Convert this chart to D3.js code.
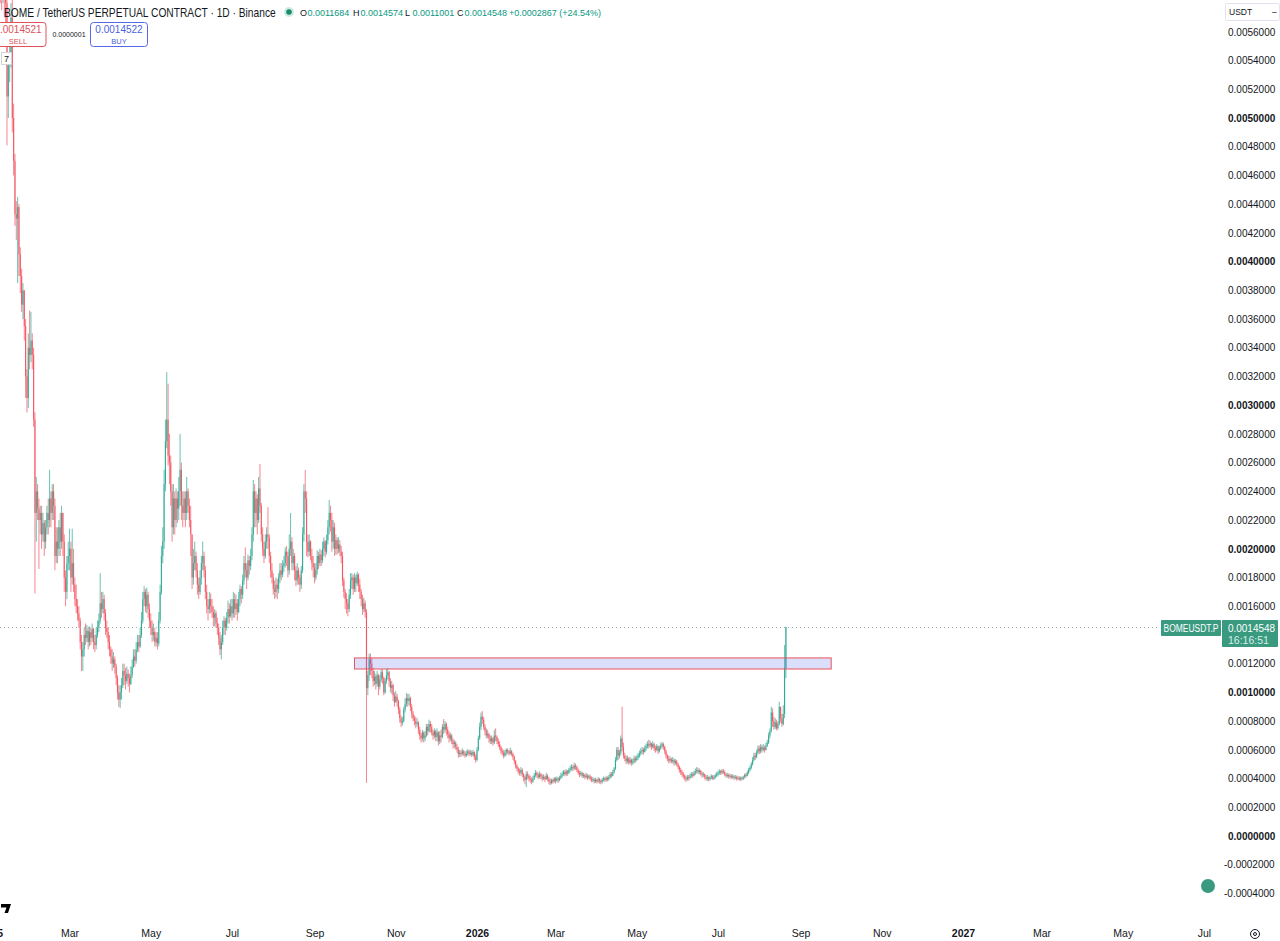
<!DOCTYPE html>
<html>
<head>
<meta charset="utf-8">
<script src="https://cdn.jsdelivr.net/npm/d3@7"></script>
<style>
  html, body { margin: 0; padding: 0; background: #fff; overflow: hidden; }
  svg text { font-family: "Liberation Sans", Arial, sans-serif; }
</style>
</head>
<body>
<div id="chart"></div>
<script>
// ---- data (prices in micro-USDT, 1e-6) ----
var unit = 1e-6;
var firstOpen = 6200;

// first day of each block of daily candles
var monthStarts = ["2025-01-08","2025-02-01","2025-03-01","2025-04-01","2025-05-01","2025-06-01",
  "2025-07-01","2025-08-01","2025-09-01","2025-10-01","2025-11-01","2025-12-01",
  "2026-01-01","2026-02-01","2026-03-01","2026-04-01","2026-05-01","2026-06-01","2026-07-01","2026-08-01"];

var closes = [
  [6000,5900,6050,5850,5800,5150,5380,5420,5700,5000,4700,4330,4300,4380,4050,3900,3700,3800,3550,3200,3050,3400,3350,3450],
  [3350,2900,2250,2400,2280,2200,2250,2100,2180,2050,2150,2250,2200,2350,2250,2400,2300,1950,2050,2000,2150,2050,2250,2050,1800,1700,1900,1950],
  [2000,1800,1900,1750,1650,1600,1550,1500,1350,1250,1300,1400,1380,1430,1350,1420,1380,1440,1350,1330,1400,1450,1500,1620,1580,1650,1550,1450,1420,1350,1300],
  [1250,1200,1230,1180,1100,1000,950,1000,1050,1150,1120,1080,1130,1100,1060,1120,1180,1250,1220,1300,1350,1320,1400,1500,1650,1700,1600,1680,1580,1500],
  [1450,1400,1420,1350,1380,1340,1500,1700,1950,2050,2450,2750,2900,2650,2600,2400,2150,2350,2200,2350,2280,2400,2550,2300,2250,2350,2250,2400,2300,2200,2100],
  [1800,1900,1950,1850,1750,1700,1800,1900,1950,1850,1700,1600,1580,1650,1600,1560,1520,1550,1480,1450,1380,1300,1350,1450,1500,1450,1520,1580,1530,1600],
  [1550,1650,1580,1620,1560,1650,1720,1680,1780,1900,1850,1800,1920,1880,1950,2100,2400,2250,2350,2200,2420,2300,2100,2000,1950,2050,2100,2080,1950,1850,1800],
  [1720,1700,1750,1720,1800,1850,1820,1880,1900,1980,1950,1850,2000,2050,1900,1950,1850,1780,1850,1800,1750,1850,2100,2400,2350,2050,1980,2050,1950,1900,1870],
  [1800,1850,1950,1900,1960,1920,2000,2050,1980,2060,2150,2250,2200,2050,2150,2000,2060,2000,2030,1980,1950,1780,1700,1650,1620,1580,1680,1780,1800,1720],
  [1800,1760,1820,1750,1700,1650,1580,1620,1560,1030,1120,1230,1200,1150,1080,1110,1060,1120,1040,1090,1140,1100,1000,1080,1120,1140,1080,1030,1050,980,930],
  [970,940,880,820,790,800,880,920,960,940,960,900,850,820,800,780,790,740,700,680,720,680,700,760,730,780,760,720,700,730],
  [690,720,660,700,690,760,740,780,740,710,680,700,660,640,650,620,600,570,580,570,590,575,560,575,590,570,580,565,585,550,530],
  [600,680,760,830,810,760,730,700,710,680,660,680,650,700,690,660,640,620,590,580,560,580,600,590,575,590,570,550,520,490,470],
  [450,440,460,430,410,390,430,420,400,390,380,400,420,440,425,410,430,415,400,410,395,420,400,380,370,390,380,400],
  [385,400,390,405,420,430,445,430,450,440,460,470,480,470,490,480,460,440,430,440,420,425,410,420,405,415,400,390,395,380,390],
  [380,395,385,375,390,400,390,405,395,410,430,420,445,470,530,600,560,580,680,620,560,540,520,540,510,530,510,520,540,530],
  [545,560,575,590,600,585,610,625,640,630,645,620,640,610,600,625,590,610,630,640,620,590,560,540,525,535,520,530,510,520,500],
  [480,460,445,430,420,400,395,410,405,420,430,420,440,450,460,445,455,435,425,430,410,400,410,395,405,415,400,410,420,430],
  [440,450,440,455,445,430,420,425,415,420,410,415,405,410,400,405,395,405,400,410,425,420,440,460,475,500,530,560,550,580,610],
  [590,620,600,615,600,630,650,700,730,860,800,760,790,750,780,900,820,780,850,1168.1,1454.8]
];

var highs = [
  [6300,6150,6200,6100,5950,5850,5450,5600,5800,6100,5100,4750,4420,4450,4400,4100,3950,3850,3800,3600,3250,3500,3660,3650],
  [3500,3400,2950,2500,2450,2350,2300,2300,2250,2200,2200,2300,2350,2550,2400,2450,2450,2350,2150,2150,2200,2250,2300,2250,2100,1850,1950,2050],
  [2140,2050,2140,2000,1800,1750,1650,1600,1520,1400,1350,1450,1480,1470,1450,1460,1450,1480,1450,1400,1450,1500,1550,1830,1700,1700,1680,1580,1500,1450,1400],
  [1320,1300,1280,1250,1200,1120,1050,1050,1100,1200,1200,1170,1180,1160,1130,1180,1230,1300,1300,1350,1400,1400,1450,1560,1700,1740,1720,1730,1700,1620],
  [1550,1500,1480,1450,1420,1420,1560,1750,2020,2150,2550,2900,3230,3150,2800,2650,2450,2450,2400,2420,2400,2500,2800,2600,2400,2400,2400,2500,2420,2350,2300],
  [2100,2000,2050,1980,1900,1800,1850,1950,2050,1980,1880,1750,1650,1700,1690,1650,1600,1580,1570,1520,1480,1420,1400,1500,1530,1520,1560,1640,1620,1650],
  [1650,1700,1690,1680,1650,1700,1750,1740,1820,1950,2010,1900,1960,1950,2000,2150,2480,2450,2400,2380,2500,2590,2320,2150,2050,2100,2150,2290,2100,1980,1900],
  [1830,1780,1800,1790,1830,1900,1900,1920,1950,2010,2020,1980,2100,2250,2080,2000,1970,1880,1900,1870,1820,1880,2150,2450,2550,2400,2100,2100,2060,2000,1950],
  [1900,1900,1990,1980,2000,1990,2050,2080,2060,2100,2200,2340,2300,2250,2200,2180,2100,2080,2080,2060,2020,1980,1800,1720,1690,1650,1720,1830,1830,1820],
  [1830,1820,1840,1830,1790,1720,1680,1660,1640,1580,1150,1270,1270,1240,1170,1150,1130,1150,1130,1120,1160,1160,1110,1100,1160,1170,1150,1100,1080,1060,1000],
  [1010,990,950,900,840,830,900,960,995,990,990,970,920,870,840,830,820,800,760,720,740,730,730,780,780,810,800,780,740,750],
  [740,750,730,730,740,780,815,800,790,760,730,720,710,680,670,660,640,620,600,600,610,600,590,595,605,600,600,595,600,590,570],
  [620,700,790,860,870,830,780,750,740,720,700,700,690,740,750,700,680,660,630,610,600,600,610,610,600,615,600,580,560,530,500],
  [480,470,480,470,440,420,450,450,430,420,410,420,440,460,450,440,450,440,430,430,420,440,430,410,400,400,400,410],
  [410,415,410,420,440,450,460,460,465,460,475,490,500,495,510,505,490,470,455,455,445,440,435,440,430,430,425,415,410,405,405],
  [400,410,405,395,405,415,410,420,415,425,445,445,460,480,550,620,620,600,700,900,650,580,560,560,550,550,540,540,560,555],
  [565,580,595,610,620,615,630,645,660,670,665,650,660,650,630,640,630,630,650,655,650,630,600,570,560,555,545,550,540,535,530],
  [510,490,475,460,445,430,420,425,425,435,445,445,455,470,480,475,470,460,450,445,435,425,425,415,420,430,425,425,435,445],
  [455,465,460,465,467,455,440,440,435,435,430,430,425,425,420,420,415,415,415,420,435,440,455,475,490,515,550,580,580,600,630],
  [630,640,635,640,630,650,670,720,750,900,890,830,820,810,800,935,900,850,910,1330,1457.4]
];

var lows = [
  [5800,5750,5800,5700,5650,4810,5000,5250,5350,4900,4600,4250,4150,3850,3900,3780,3650,3600,3450,3050,2950,2980,3250,3300],
  [3250,2850,1690,2050,2200,1860,2100,2000,2050,1950,2000,2100,2100,2150,2150,2200,2200,1850,1900,1900,1950,1950,2000,1950,1700,1600,1650,1850],
  [1850,1700,1750,1700,1600,1550,1500,1450,1300,1150,1150,1250,1330,1350,1300,1320,1330,1350,1300,1280,1300,1380,1420,1480,1520,1550,1500,1400,1380,1300,1250],
  [1200,1150,1170,1130,1050,950,900,890,950,1030,1050,1020,1060,1040,1000,1050,1100,1170,1180,1200,1280,1280,1310,1380,1480,1600,1560,1550,1520,1450],
  [1400,1350,1360,1320,1320,1300,1320,1480,1680,1900,2000,2400,2700,2580,2450,2300,2050,2100,2100,2150,2180,2200,2300,2200,2150,2200,2150,2200,2250,2150,1950],
  [1720,1750,1850,1800,1680,1650,1680,1750,1850,1800,1650,1550,1500,1550,1550,1520,1460,1460,1450,1400,1330,1260,1230,1330,1400,1400,1430,1480,1480,1520],
  [1500,1520,1520,1540,1500,1550,1600,1620,1650,1750,1800,1720,1780,1820,1850,1920,2050,2150,2150,2100,2180,2250,2050,1950,1900,1930,2000,2000,1900,1800,1760],
  [1680,1650,1660,1650,1690,1760,1780,1800,1840,1870,1880,1800,1820,1950,1850,1850,1780,1740,1750,1750,1700,1720,1830,2050,2250,1950,1940,1950,1920,1850,1800],
  [1760,1780,1820,1860,1880,1880,1900,1950,1940,1960,2030,2100,2120,1980,2000,1950,1960,1960,1970,1950,1900,1740,1660,1580,1550,1530,1560,1650,1720,1680],
  [1700,1700,1740,1700,1650,1600,1540,1560,1520,370,980,1080,1120,1100,1040,1050,1020,1040,980,1020,1070,1060,980,990,1060,1090,1040,1000,990,940,900],
  [930,900,850,790,760,770,790,860,900,900,910,870,820,800,770,750,760,710,670,650,660,650,660,690,700,720,720,700,670,680],
  [660,660,630,640,650,680,710,720,700,680,650,660,640,610,610,600,580,545,550,550,560,555,545,550,560,555,560,550,555,530,510],
  [520,590,670,740,780,740,700,680,680,650,640,640,630,640,660,640,620,600,570,560,540,550,560,570,560,565,555,530,500,470,450],
  [430,420,420,410,380,360,340,395,380,370,360,370,390,410,405,395,400,395,380,390,375,390,380,360,355,360,365,370],
  [365,375,370,380,395,405,420,415,420,420,430,445,455,450,460,460,445,425,410,415,405,405,395,400,390,395,385,375,375,365,370],
  [365,370,365,360,365,380,375,380,380,385,400,405,415,435,460,520,530,540,560,590,540,520,500,505,495,500,490,495,505,510],
  [520,530,545,560,570,565,580,595,610,610,615,600,610,590,580,590,570,580,600,610,600,570,540,520,505,510,505,505,490,495,485],
  [465,440,425,410,400,385,375,385,385,395,405,405,415,425,435,430,430,420,405,410,395,385,385,380,385,395,390,390,400,410],
  [415,425,425,430,430,415,405,405,400,400,395,400,390,395,385,390,385,385,385,390,400,405,415,430,450,465,490,520,530,540,570],
  [570,575,580,590,580,595,620,640,680,720,760,740,745,735,740,770,790,760,770,820,1100.1]
];

// axis ticks
var yTickValues = [0.0056,0.0054,0.0052,0.0050,0.0048,0.0046,0.0044,0.0042,0.0040,0.0038,0.0036,0.0034,
  0.0032,0.0030,0.0028,0.0026,0.0024,0.0022,0.0020,0.0018,0.0016,0.0012,0.0010,0.0008,0.0006,0.0004,
  0.0002,0.0000,-0.0002,-0.0004];
var timeTickDates = ["2025-01-01","2025-03-01","2025-05-01","2025-07-01","2025-09-01","2025-11-01",
  "2026-01-01","2026-03-01","2026-05-01","2026-07-01","2026-09-01","2026-11-01",
  "2027-01-01","2027-03-01","2027-05-01","2027-07-01"];
var timeTickLabels = ["2025","Mar","May","Jul","Sep","Nov","2026","Mar","May","Jul","Sep","Nov","2027","Mar","May","Jul"];

// drawn zone (rectangle)
var zoneDates = ["2025-10-01","2026-09-24"];
var zonePrices = [0.001163, 0.00124];

var lastPrice = 0.0014548;
var headerParts = [["O","0.0011684"],["H","0.0014574"],["L","0.0011001"],["C","0.0014548"]];
var headerChange = ["+0.0002867","(+24.54%)"];

// ---- setup ----
var W = 1280, H = 941;
var upColor = "#089981", downColor = "#f23645", textColor = "#131722";

var svg = d3.select("#chart").append("svg")
    .attr("width", W)
    .attr("height", H);

svg.append("rect").attr("width", W).attr("height", H).attr("fill", "#fff");

var parse = function(s) { return new Date(s + "T00:00:00Z"); };

var x = d3.scaleUtc()
    .domain([parse("2025-01-01"), parse("2027-01-01")])
    .range([-9, 963]);
var y = d3.scaleLinear()
    .domain([0, 0.005])
    .range([836, 118]);

// build candles, open = previous close
var candles = [];
var prev = firstOpen;
monthStarts.forEach(function(ms, m) {
  var t0 = parse(ms);
  closes[m].forEach(function(c, i) {
    var h = highs[m][i] != null ? highs[m][i] : c;
    var l = lows[m][i] != null ? lows[m][i] : c;
    candles.push({
      date: d3.utcDay.offset(t0, i),
      o: prev * unit,
      c: c * unit,
      h: Math.max(h, prev, c) * unit,
      l: Math.min(l, prev, c) * unit
    });
    prev = c;
  });
});

svg.append("clipPath").attr("id", "plotclip")
  .append("rect").attr("x", 0).attr("y", 0).attr("width", 1222).attr("height", 920);

var plot = svg.append("g").attr("clip-path", "url(#plotclip)");

// wicks
plot.selectAll("line.wick")
  .data(candles)
  .join("line")
    .attr("class", "wick")
    .attr("x1", function(d) { return x(d.date); })
    .attr("x2", function(d) { return x(d.date); })
    .attr("y1", function(d) { return y(d.h); })
    .attr("y2", function(d) { return y(d.l); })
    .attr("stroke", function(d) { return d.c >= d.o ? upColor : downColor; })
    .attr("stroke-width", 1)
    .attr("opacity", 0.6);

// bodies
plot.selectAll("rect.body")
  .data(candles)
  .join("rect")
    .attr("class", "body")
    .attr("x", function(d) { return x(d.date) - 0.6; })
    .attr("width", 1.2)
    .attr("y", function(d) { return y(Math.max(d.o, d.c)); })
    .attr("height", function(d) { return Math.max(1, Math.abs(y(d.o) - y(d.c))); })
    .attr("fill", function(d) { return d.c >= d.o ? upColor : downColor; })
    .attr("opacity", 0.6);

// zone rectangle
plot.append("rect")
  .attr("x", x(parse(zoneDates[0])))
  .attr("width", x(parse(zoneDates[1])) - x(parse(zoneDates[0])))
  .attr("y", y(zonePrices[1]))
  .attr("height", y(zonePrices[0]) - y(zonePrices[1]))
  .attr("fill", "rgba(82, 96, 240, 0.2)")
  .attr("stroke", "#e8545b")
  .attr("stroke-width", 1);

// last price dotted line
svg.append("line")
  .attr("x1", 0).attr("x2", 1160)
  .attr("y1", Math.round(y(lastPrice)) + 0.5).attr("y2", Math.round(y(lastPrice)) + 0.5)
  .attr("stroke", "#9fb2ad")
  .attr("stroke-width", 1)
  .attr("stroke-dasharray", "1,3");

// ---- price axis ----
var yAxis = svg.append("g")
  .attr("transform", "translate(1224,0)")
  .call(d3.axisRight(y)
    .tickValues(yTickValues)
    .tickSize(0)
    .tickPadding(4)
    .tickFormat(function(v) { return v.toFixed(7); }));
yAxis.select(".domain").remove();
yAxis.selectAll("text")
  .attr("fill", textColor)
  .attr("x", function(v) { return v < 0 ? 0 : 4; })
  .style("font-size", "10px")
  .style("font-weight", function(v) { return Math.abs(v * 1000 - Math.round(v * 1000)) < 1e-6 ? "bold" : "normal"; });

// ---- time axis ----
var xAxis = svg.append("g")
  .attr("transform", "translate(0,922)")
  .call(d3.axisBottom(x)
    .tickValues(timeTickDates.map(parse))
    .tickSize(0)
    .tickPadding(8)
    .tickFormat(function(d, i) { return timeTickLabels[i]; }));
xAxis.select(".domain").remove();
xAxis.selectAll("text")
  .attr("fill", textColor)
  .style("font-size", "10.5px")
  .style("font-weight", function(d, i) { return /^\d{4}$/.test(timeTickLabels[i]) ? "bold" : "normal"; });

// ---- last price labels ----
var ly = Math.round(y(lastPrice));
svg.append("rect")
  .attr("x", 1161).attr("y", ly - 7).attr("width", 60).attr("height", 16)
  .attr("rx", 1).attr("fill", "#3a9a80");
svg.append("text")
  .attr("x", 1191).attr("y", ly + 5)
  .attr("text-anchor", "middle")
  .attr("fill", "#fff")
  .style("font-size", "10px")
  .attr("textLength", 55).attr("lengthAdjust", "spacingAndGlyphs")
  .text("BOMEUSDT.P");
svg.append("rect")
  .attr("x", 1222).attr("y", ly - 7).attr("width", 56).attr("height", 27)
  .attr("rx", 1).attr("fill", "#3a9a80");
svg.append("text")
  .attr("x", 1228).attr("y", ly + 5)
  .attr("fill", "#fff")
  .style("font-size", "10.5px")
  .attr("textLength", 47).attr("lengthAdjust", "spacingAndGlyphs")
  .text(lastPrice.toFixed(7));
svg.append("text")
  .attr("x", 1228).attr("y", ly + 17)
  .attr("fill", "#d7efe8")
  .style("font-size", "10.5px")
  .text("16:16:51");

// ---- header ----
// title squeezed horizontally to the width it takes in the chart (272px)
var title = svg.append("text")
  .attr("fill", textColor)
  .style("font-size", "12.5px")
  .text("BOME / TetherUS PERPETUAL CONTRACT \u00b7 1D \u00b7 Binance");
var natural = title.node().getComputedTextLength();
title.attr("transform", "translate(4,17) scale(" + (272 / natural) + ",1)");

svg.append("circle").attr("cx", 289).attr("cy", 12).attr("r", 5).attr("fill", "#cdebe3");
svg.append("circle").attr("cx", 289).attr("cy", 12).attr("r", 2.8).attr("fill", "#1d8a6e");

// O / H / L / C groups: letter dark, value green
var partX = [300, 353, 405, 457];
headerParts.forEach(function(p, i) {
  svg.append("text")
    .attr("x", partX[i]).attr("y", 16)
    .attr("fill", textColor)
    .style("font-size", "9px")
    .text(p[0]);
  svg.append("text")
    .attr("x", partX[i] + 7.5).attr("y", 16)
    .attr("fill", upColor)
    .style("font-size", "9px")
    .text(p[1]);
});
svg.append("text")
  .attr("x", 509).attr("y", 16)
  .attr("fill", upColor)
  .style("font-size", "9px")
  .text(headerChange[0] + " " + headerChange[1]);

// sell / buy boxes
svg.append("rect")
  .attr("x", -4).attr("y", 22.5).attr("width", 50).attr("height", 24)
  .attr("rx", 3).attr("fill", "#fff").attr("stroke", "#e0525a");
svg.append("text")
  .attr("x", 18).attr("y", 33)
  .attr("text-anchor", "middle").attr("fill", "#e0525a")
  .style("font-size", "10px")
  .text("0.0014521");
svg.append("text")
  .attr("x", 18).attr("y", 43.5)
  .attr("text-anchor", "middle").attr("fill", "#e0525a")
  .style("font-size", "7.5px")
  .text("SELL");
svg.append("text")
  .attr("x", 69).attr("y", 37)
  .attr("text-anchor", "middle").attr("fill", textColor)
  .style("font-size", "7px")
  .text("0.0000001");
svg.append("rect")
  .attr("x", 90.5).attr("y", 22.5).attr("width", 57).attr("height", 24)
  .attr("rx", 3).attr("fill", "#fff").attr("stroke", "#5568e8");
svg.append("text")
  .attr("x", 119).attr("y", 33)
  .attr("text-anchor", "middle").attr("fill", "#4a5fe0")
  .style("font-size", "10px")
  .text("0.0014522");
svg.append("text")
  .attr("x", 119).attr("y", 43.5)
  .attr("text-anchor", "middle").attr("fill", "#4a5fe0")
  .style("font-size", "7.5px")
  .text("BUY");

// small "7" marker top left
svg.append("rect")
  .attr("x", 1.5).attr("y", 52.5).attr("width", 10).attr("height", 12)
  .attr("fill", "#fff").attr("stroke", "#cfd3dc");
svg.append("text")
  .attr("x", 6.5).attr("y", 62)
  .attr("text-anchor", "middle").attr("fill", textColor)
  .style("font-size", "9px")
  .text("7");

// currency selector
svg.append("rect")
  .attr("x", 1225.5).attr("y", 3.5).attr("width", 54).attr("height", 17)
  .attr("rx", 2).attr("fill", "#fff").attr("stroke", "#e0e3eb");
svg.append("text")
  .attr("x", 1229).attr("y", 15)
  .attr("fill", textColor)
  .style("font-size", "8.5px")
  .text("USDT");
svg.append("text")
  .attr("x", 1272).attr("y", 15)
  .attr("fill", textColor)
  .style("font-size", "8.5px")
  .text("\u2013");

// floating dot & settings gear
svg.append("circle").attr("cx", 1208).attr("cy", 886).attr("r", 7).attr("fill", "#3a9a80");
svg.append("circle").attr("cx", 1255).attr("cy", 934).attr("r", 4.5)
  .attr("fill", "none").attr("stroke", textColor).attr("stroke-width", 1);
svg.append("circle").attr("cx", 1255).attr("cy", 934).attr("r", 1.5)
  .attr("fill", "none").attr("stroke", textColor).attr("stroke-width", 1);

// logo stub bottom-left
svg.append("path")
  .attr("d", "M1,904 L11,904 L8,913 L4.5,913 L6.5,907.5 L1,907.5 Z")
  .attr("fill", "#000");
</script>
</body>
</html>
